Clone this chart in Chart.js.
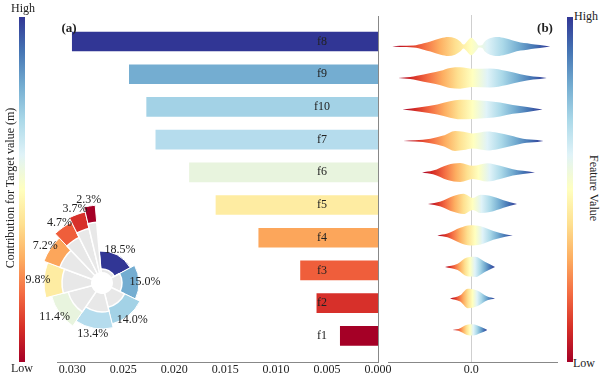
<!DOCTYPE html>
<html lang="en">
<head>
<meta charset="UTF-8">
<title>Feature contribution</title>
<script src="https://cdn.jsdelivr.net/npm/chart.js@4.4.1/dist/chart.umd.min.js"></script>
<style>
  html, body { margin: 0; padding: 0; background: #fff; overflow: hidden; }
  body { width: 600px; height: 373px; position: relative; font-family: "Liberation Serif", "Times New Roman", serif; color: #222; }
  .box { position: absolute; }
  .cbar { position: absolute; top: 17px; width: 6px; height: 345px;
    background: linear-gradient(to top, #a50026, #d73027, #f46d43, #fdae61, #fee090, #ffffbf, #e0f3f8, #abd9e9, #74add1, #4575b4, #313695); }
  .txt { position: absolute; font-size: 12px; white-space: nowrap; transform: translate(-50%, -50%); }
  .panel { font-weight: bold; font-size: 13px; }
</style>
</head>
<body>

<div class="cbar" style="left:19px"></div>
<div class="cbar" style="left:567px"></div>

<div class="box" style="left:0;top:0;width:392px;height:378px"><canvas id="barChart"></canvas></div>
<div class="box" style="left:380px;top:0;width:185px;height:378px"><canvas id="swarmChart"></canvas></div>
<div class="box" style="left:2px;top:183px;width:200px;height:200px"><canvas id="roseChart"></canvas></div>

<div class="txt" style="left:23px;top:8px">High</div>
<div class="txt" style="left:22px;top:368px">Low</div>
<div class="txt" style="left:10px;top:188px;transform:translate(-50%,-50%) rotate(-90deg)">Contribution for Target value (m)</div>
<div class="txt" style="left:586px;top:16px">High</div>
<div class="txt" style="left:584px;top:363px">Low</div>
<div class="txt" style="left:593px;top:188px;transform:translate(-50%,-50%) rotate(90deg)">Feature Value</div>
<div class="txt panel" style="left:69px;top:28px">(a)</div>
<div class="txt panel" style="left:545px;top:28px">(b)</div>

<script>
// ---- data ----
const features = ['f8', 'f9', 'f10', 'f7', 'f6', 'f5', 'f4', 'f3', 'f2', 'f1'];
const meanContribution = [0.0300, 0.0244, 0.0227, 0.0218, 0.0185, 0.0159, 0.0117, 0.0076, 0.0060, 0.0037];
const sharePct = [18.5, 15.0, 14.0, 13.4, 11.4, 9.8, 7.2, 4.7, 3.7, 2.3];
const barTicks = [0, 0.005, 0.010, 0.015, 0.020, 0.025, 0.030];
const swarmTicks = [0];

// rose inset: radial extent of each coloured band (radial units, axis 0..100)
const roseOuter = [32, 37, 42, 46, 52, 58, 62, 68, 73, 78];
const roseInner = [14, 20, 25, 29, 35, 40, 45, 51, 56, 61];
const roseHole = 11;

// beeswarm outline per feature: [shap value, half height in row units]
const swarmF8 = [[-0.0093, 0], [-0.0084, 0.02], [-0.0068, 0.03], [-0.0056, 0.10], [-0.0048, 0.16], [-0.0036, 0.26], [-0.0027, 0.30], [-0.0019, 0.26], [-0.0013, 0.16], [-0.0009, 0.06], [-0.0006, 0.13], [0, 0.28], [0.0006, 0.13], [0.0009, 0.03], [0.0013, 0.05], [0.0016, 0.16], [0.0022, 0.26], [0.0031, 0.30], [0.0040, 0.26], [0.0049, 0.19], [0.0058, 0.13], [0.0066, 0.10], [0.0075, 0.06], [0.0081, 0.05], [0.0093, 0]];
const swarmF9 = [[-0.0086, 0], [-0.0072, 0.03], [-0.0064, 0.07], [-0.0048, 0.16], [-0.0036, 0.23], [-0.0025, 0.32], [-0.0013, 0.34], [0.0002, 0.29], [0.0022, 0.30], [0.0042, 0.22], [0.0058, 0.12], [0.0073, 0.05], [0.0081, 0.03], [0.0089, 0]];
const swarmF10 = [[-0.0081, 0], [-0.0060, 0.07], [-0.0040, 0.16], [-0.0025, 0.26], [-0.0013, 0.31], [0.0002, 0.30], [0.0019, 0.27], [0.0034, 0.22], [0.0049, 0.14], [0.0066, 0.08], [0.0084, 0]];
const swarmF7 = [[-0.0080, 0], [-0.0066, 0.02], [-0.0048, 0.07], [-0.0033, 0.17], [-0.0019, 0.32], [-0.0009, 0.29], [0.0002, 0.24], [0.0019, 0.30], [0.0031, 0.26], [0.0046, 0.17], [0.0061, 0.07], [0.0078, 0.03], [0.0085, 0]];
const swarmF6 = [[-0.0058, 0], [-0.0045, 0.06], [-0.0028, 0.24], [-0.0013, 0.30], [0.0002, 0.21], [0.0019, 0.29], [0.0034, 0.21], [0.0049, 0.10], [0.0061, 0.05], [0.0075, 0]];
const swarmF5 = [[-0.0051, 0], [-0.0036, 0.08], [-0.0021, 0.25], [-0.0009, 0.32], [0.0002, 0.19], [0.0011, 0.29], [0.0022, 0.26], [0.0038, 0.12], [0.0054, 0]];
const swarmF4 = [[-0.0040, 0], [-0.0028, 0.06], [-0.0013, 0.24], [-0.0001, 0.32], [0.0011, 0.29], [0.0026, 0.14], [0.0040, 0.04], [0.0049, 0]];
const swarmF3 = [[-0.0031, 0], [-0.0016, 0.10], [-0.0005, 0.30], [0.0005, 0.32], [0.0016, 0.16], [0.0028, 0]];
const swarmF2 = [[-0.0025, 0], [-0.0013, 0.10], [-0.0004, 0.31], [0.0007, 0.25], [0.0019, 0.06], [0.0028, 0]];
const swarmF1 = [[-0.0022, 0], [-0.0015, 0.03], [-0.0005, 0.16], [0.0002, 0.18], [0.0011, 0.10], [0.0019, 0]];
const swarmRows = [swarmF8, swarmF9, swarmF10, swarmF7, swarmF6, swarmF5, swarmF4, swarmF3, swarmF2, swarmF1];

// ---- styles ----
const rdylbu = ['#a50026', '#d73027', '#f46d43', '#fdae61', '#fee090', '#ffffbf', '#e0f3f8', '#abd9e9', '#74add1', '#4575b4', '#313695'];
const barColors = ['#313695', '#74add1', '#a3d2e6', '#b5dced', '#e8f4de', '#feeca2', '#fca65b', '#ef5e3b', '#d7302a', '#a50026'];
const serif = '"Liberation Serif", "Times New Roman", serif';

Chart.defaults.font.family = serif;
Chart.defaults.color = '#222';

// feature names written inside the bars
const barNames = {
  id: 'barNames',
  afterDatasetsDraw(chart) {
    const ctx = chart.ctx;
    const x = chart.scales.x.getPixelForValue(0.0055);
    ctx.save();
    ctx.font = '12px ' + serif;
    ctx.fillStyle = '#222';
    ctx.textAlign = 'center';
    ctx.textBaseline = 'middle';
    chart.getDatasetMeta(0).data.forEach((bar, i) => {
      ctx.fillText(features[i], x, bar.y);
    });
    ctx.restore();
  }
};

new Chart(document.getElementById('barChart'), {
  type: 'bar',
  data: {
    datasets: [{
      data: features.map((f, i) => ({ x: meanContribution[i], y: features.length - 1 - i })),
      backgroundColor: barColors,
      borderWidth: 0,
      barThickness: 19
    }]
  },
  options: {
    indexAxis: 'y',
    responsive: true,
    maintainAspectRatio: false,
    animation: false,
    layout: { padding: { left: 57, top: 16, right: 14, bottom: 0 } },
    plugins: { legend: { display: false }, tooltip: { enabled: false } },
    scales: {
      x: {
        type: 'linear', reverse: true, min: 0, max: 0.0315,
        afterBuildTicks: s => { s.ticks = barTicks.map(v => ({ value: v })); },
        afterFit: s => { s.height = 16; },
        grid: { display: false, drawTicks: false },
        border: { color: '#888' },
        ticks: { padding: 1, font: { size: 12 }, maxRotation: 0, autoSkip: false, callback: v => v.toFixed(3) }
      },
      y: {
        type: 'linear', position: 'right', min: -0.8, max: 9.78, offset: false,
        afterFit: s => { s.width = 0; },
        grid: { display: false, drawTicks: false, offset: false },
        ticks: { display: false },
        border: { color: '#888' }
      }
    }
  },
  plugins: [barNames]
});

// ---- beeswarm outlines ----
function rowGradient(chart, env) {
  if (!chart.chartArea) return '#ffffbf';
  const xs = chart.scales.x;
  const x0 = xs.getPixelForValue(env[0][0]);
  const x1 = xs.getPixelForValue(env[env.length - 1][0]);
  const g = chart.ctx.createLinearGradient(x0, 0, x1, 0);
  rdylbu.forEach((c, k) => g.addColorStop(k / (rdylbu.length - 1), c));
  return g;
}

const swarmSets = [];
swarmRows.forEach((env, i) => {
  const row = features.length - 1 - i;
  const common = { pointRadius: 0, borderWidth: 0, borderColor: 'rgba(0,0,0,0)', cubicInterpolationMode: 'monotone' };
  swarmSets.push(Object.assign({ data: env.map(p => ({ x: p[0], y: row + p[1] })), fill: false }, common));
  swarmSets.push(Object.assign({
    data: env.map(p => ({ x: p[0], y: row - p[1] })),
    fill: '-1',
    backgroundColor: ctx => rowGradient(ctx.chart, env)
  }, common));
});

new Chart(document.getElementById('swarmChart'), {
  type: 'line',
  data: { datasets: swarmSets },
  options: {
    responsive: true,
    maintainAspectRatio: false,
    animation: false,
    layout: { padding: { left: 8, top: 15, right: 8, bottom: 0 } },
    plugins: { legend: { display: false }, tooltip: { enabled: false } },
    scales: {
      x: {
        type: 'linear', min: -0.0098, max: 0.0101,
        afterBuildTicks: s => { s.ticks = swarmTicks.map(v => ({ value: v })); },
        afterFit: s => { s.height = 16; },
        grid: { color: '#cfcfcf', drawTicks: false },
        border: { color: '#888' },
        ticks: { padding: 1, font: { size: 12 }, maxRotation: 0, callback: v => v.toFixed(1) }
      },
      y: { type: 'linear', min: -1.02, max: 10.0, display: false }
    }
  }
});

// ---- rose inset ----
const roseLabels = {
  id: 'roseLabels',
  afterDatasetsDraw(chart) {
    const ctx = chart.ctx;
    ctx.save();
    ctx.font = '12px ' + serif;
    ctx.fillStyle = '#222';
    ctx.textAlign = 'center';
    ctx.textBaseline = 'middle';
    chart.getDatasetMeta(2).data.forEach((arc, i) => {
      const mid = (arc.startAngle + arc.endAngle) / 2;
      const r = arc.outerRadius + 6;
      ctx.fillText(sharePct[i].toFixed(1) + '%', arc.x + Math.cos(mid) * r, arc.y + Math.sin(mid) * r);
    });
    ctx.restore();
  }
};

const wedgeAngle = ctx => sharePct[ctx.dataIndex] * 3.6;

new Chart(document.getElementById('roseChart'), {
  type: 'polarArea',
  data: {
    labels: features,
    datasets: [
      { data: features.map(() => roseHole), backgroundColor: '#fff', borderWidth: 0, angle: wedgeAngle },
      { data: roseInner, backgroundColor: '#e8e8e8', borderColor: '#fff', borderWidth: 1.5, angle: wedgeAngle },
      { data: roseOuter, backgroundColor: barColors, borderColor: '#fff', borderWidth: 1, angle: wedgeAngle }
    ]
  },
  options: {
    responsive: true,
    maintainAspectRatio: false,
    animation: false,
    layout: { padding: 0 },
    plugins: { legend: { display: false }, tooltip: { enabled: false } },
    scales: { r: { min: 0, max: 100, startAngle: -5, display: false } }
  },
  plugins: [roseLabels]
});
</script>
</body>
</html>
